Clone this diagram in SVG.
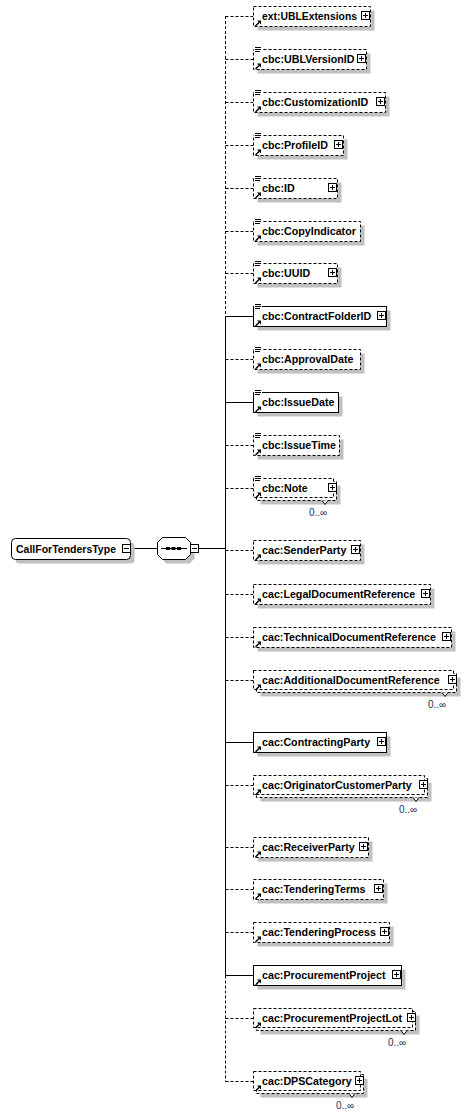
<svg xmlns="http://www.w3.org/2000/svg" xmlns:xlink="http://www.w3.org/1999/xlink" width="470" height="1115" viewBox="0 0 470 1115">
<style>
.bo{fill:#fff;stroke:#000;stroke-width:1}
.opt{stroke-dasharray:3 2}
.sh{fill:#c0c0c0}
.lbl{font-family:"Liberation Sans",Arial,sans-serif;font-weight:bold;font-size:10.7px;fill:#000}
.occ{font-family:"Liberation Sans",Arial,sans-serif;font-size:10px;fill:#1c2f5c;text-anchor:middle}
.ln{stroke:#000;stroke-width:1;fill:none}
.dl{stroke:#000;stroke-width:1;fill:none;stroke-dasharray:3 2}
.nt{fill:#fff;stroke:#000;stroke-width:1}
</style>
<defs>
<g id="plus"><rect x="0.5" y="-4.5" width="8" height="8" fill="#fff" stroke="#000"/><path d="M2 -0.5H7M4.5 -3V2" stroke="#000"/></g>
<g id="minus"><rect x="0.5" y="-4.5" width="8" height="8" fill="#fff" stroke="#000"/><path d="M2 -0.5H7" stroke="#000"/></g>
<g id="ref"><path d="M255.5 10 L259 6.5" stroke="#000" stroke-width="1.4"/><polygon points="257,4.5 261,4.5 261,8.5" fill="#000"/></g>
<g id="simp"><rect x="254" y="-12" width="8" height="6" fill="#fff"/><path d="M255 -11.5h6M255 -9.5h6M255 -7.5h5" stroke="#000"/></g>
</defs>

<g id="connectors">
<path class="ln" d="M131 548.5H157.5M199 548.5H225.5"/>
<path class="dl" d="M225.5 16V316.5"/>
<path class="ln" d="M225.5 316.5V975.5"/>
<path class="dl" d="M225.5 975.5V1081.5"/>
<path class="dl" d="M225.5 16.5H253M225.5 59.5H253M225.5 102.5H253M225.5 145.5H253M225.5 188.5H253M225.5 231.5H253M225.5 273.5H253M225.5 359.5H253M225.5 445.5H253M225.5 488.5H253M225.5 550.5H253M225.5 594.5H253M225.5 637.5H253M225.5 680.5H253M225.5 785.5H253M225.5 847.5H253M225.5 889.5H253M225.5 932.5H253M225.5 1018.5H253M225.5 1081.5H253"/>
<path class="ln" d="M225.5 316.5H253M225.5 402.5H253M225.5 742.5H253M225.5 975.5H253"/>
</g>

<g id="root">
<rect class="sh" x="15.5" y="542.5" width="119" height="21" rx="4"/>
<rect class="bo" x="11.5" y="538.5" width="119" height="21" rx="4"/>
<text class="lbl" x="16" y="552.5" style="font-size:10.5px">CallForTendersType</text>
<use href="#minus" x="122" y="549"/>
</g>

<g id="sequence">
<polygon class="sh" points="166.5,541.5 189.5,541.5 194.5,546.5 194.5,558.5 189.5,563.5 166.5,563.5 161.5,558.5 161.5,546.5"/>
<polygon class="bo" points="162.5,537.5 185.5,537.5 190.5,542.5 190.5,554.5 185.5,559.5 162.5,559.5 157.5,554.5 157.5,542.5"/>
<path class="ln" d="M161 548.5H187"/>
<rect x="166" y="547" width="4" height="3" fill="#000"/><rect x="171.5" y="547" width="4" height="3" fill="#000"/><rect x="177" y="547" width="4" height="3" fill="#000"/>
<use href="#minus" x="190" y="549"/>
</g>

<g id="n01" transform="translate(0,16)">
<rect class="sh" x="257.5" y="-5.5" width="117" height="20"/>
<rect class="bo opt" x="253.5" y="-9.5" width="117" height="20"/>
<use href="#ref"/>
<text class="lbl" x="262" y="4" textLength="95" lengthAdjust="spacingAndGlyphs">ext:UBLExtensions</text>
<use href="#plus" x="361"/>
</g>

<g id="n02" transform="translate(0,59)">
<rect class="sh" x="257.5" y="-5.5" width="113" height="20"/>
<rect class="bo opt" x="253.5" y="-9.5" width="113" height="20"/>
<use href="#simp"/><use href="#ref"/>
<text class="lbl" x="262" y="4">cbc:UBLVersionID</text>
<use href="#plus" x="357"/>
</g>

<g id="n03" transform="translate(0,102)">
<rect class="sh" x="257.5" y="-5.5" width="132" height="20"/>
<rect class="bo opt" x="253.5" y="-9.5" width="132" height="20"/>
<use href="#simp"/><use href="#ref"/>
<text class="lbl" x="262" y="4">cbc:CustomizationID</text>
<use href="#plus" x="376"/>
</g>

<g id="n04" transform="translate(0,145)">
<rect class="sh" x="257.5" y="-5.5" width="90" height="20"/>
<rect class="bo opt" x="253.5" y="-9.5" width="90" height="20"/>
<use href="#simp"/><use href="#ref"/>
<text class="lbl" x="262" y="4">cbc:ProfileID</text>
<use href="#plus" x="334"/>
</g>

<g id="n05" transform="translate(0,188)">
<rect class="sh" x="257.5" y="-5.5" width="84" height="20"/>
<rect class="bo opt" x="253.5" y="-9.5" width="84" height="20"/>
<use href="#simp"/><use href="#ref"/>
<text class="lbl" x="262" y="4">cbc:ID</text>
<use href="#plus" x="328"/>
</g>

<g id="n06" transform="translate(0,231)">
<rect class="sh" x="257.5" y="-5.5" width="107" height="20"/>
<rect class="bo opt" x="253.5" y="-9.5" width="107" height="20"/>
<use href="#simp"/><use href="#ref"/>
<text class="lbl" x="262" y="4">cbc:CopyIndicator</text>
</g>

<g id="n07" transform="translate(0,273)">
<rect class="sh" x="257.5" y="-5.5" width="84" height="20"/>
<rect class="bo opt" x="253.5" y="-9.5" width="84" height="20"/>
<use href="#simp"/><use href="#ref"/>
<text class="lbl" x="262" y="4">cbc:UUID</text>
<use href="#plus" x="328"/>
</g>

<g id="n08" transform="translate(0,316)">
<rect class="sh" x="257.5" y="-5.5" width="133" height="20"/>
<rect class="bo" x="253.5" y="-9.5" width="133" height="20"/>
<use href="#simp"/><use href="#ref"/>
<text class="lbl" x="262" y="4">cbc:ContractFolderID</text>
<use href="#plus" x="377"/>
</g>

<g id="n09" transform="translate(0,359)">
<rect class="sh" x="257.5" y="-5.5" width="107" height="20"/>
<rect class="bo opt" x="253.5" y="-9.5" width="107" height="20"/>
<use href="#simp"/><use href="#ref"/>
<text class="lbl" x="262" y="4">cbc:ApprovalDate</text>
</g>

<g id="n10" transform="translate(0,402)">
<rect class="sh" x="257.5" y="-5.5" width="85" height="20"/>
<rect class="bo" x="253.5" y="-9.5" width="85" height="20"/>
<use href="#simp"/><use href="#ref"/>
<text class="lbl" x="262" y="4">cbc:IssueDate</text>
</g>

<g id="n11" transform="translate(0,445)">
<rect class="sh" x="257.5" y="-5.5" width="86" height="20"/>
<rect class="bo opt" x="253.5" y="-9.5" width="86" height="20"/>
<use href="#simp"/><use href="#ref"/>
<text class="lbl" x="262" y="4">cbc:IssueTime</text>
</g>

<g id="n12" transform="translate(0,488)">
<rect class="sh" x="260.5" y="-2.5" width="80" height="19"/>
<rect class="bo opt" x="256.5" y="-6.5" width="80" height="19"/>
<rect class="bo opt" x="253.5" y="-9.5" width="80" height="19"/>
<path class="nt" d="M322 12.5L325 16.5L328 12.5"/>
<use href="#simp"/><use href="#ref"/>
<text class="lbl" x="262" y="4">cbc:Note</text>
<use href="#plus" x="328"/>
<text class="occ" x="318" y="28">0..∞</text>
</g>

<g id="n13" transform="translate(0,550)">
<rect class="sh" x="257.5" y="-5.5" width="107" height="20"/>
<rect class="bo opt" x="253.5" y="-9.5" width="107" height="20"/>
<use href="#ref"/>
<text class="lbl" x="262" y="4">cac:SenderParty</text>
<use href="#plus" x="351"/>
</g>

<g id="n14" transform="translate(0,594)">
<rect class="sh" x="257.5" y="-5.5" width="177" height="20"/>
<rect class="bo opt" x="253.5" y="-9.5" width="177" height="20"/>
<use href="#ref"/>
<text class="lbl" x="262" y="4">cac:LegalDocumentReference</text>
<use href="#plus" x="421"/>
</g>

<g id="n15" transform="translate(0,637)">
<rect class="sh" x="257.5" y="-5.5" width="198" height="20"/>
<rect class="bo opt" x="253.5" y="-9.5" width="198" height="20"/>
<use href="#ref"/>
<text class="lbl" x="262" y="4">cac:TechnicalDocumentReference</text>
<use href="#plus" x="442"/>
</g>

<g id="n16" transform="translate(0,680)">
<rect class="sh" x="260.5" y="-2.5" width="200" height="19"/>
<rect class="bo opt" x="256.5" y="-6.5" width="200" height="19"/>
<rect class="bo opt" x="253.5" y="-9.5" width="200" height="19"/>
<path class="nt" d="M442 12.5L445 16.5L448 12.5"/>
<use href="#ref"/>
<text class="lbl" x="262" y="4">cac:AdditionalDocumentReference</text>
<use href="#plus" x="448"/>
<text class="occ" x="437" y="28">0..∞</text>
</g>

<g id="n17" transform="translate(0,742)">
<rect class="sh" x="257.5" y="-5.5" width="133" height="20"/>
<rect class="bo" x="253.5" y="-9.5" width="133" height="20"/>
<use href="#ref"/>
<text class="lbl" x="262" y="4">cac:ContractingParty</text>
<use href="#plus" x="377"/>
</g>

<g id="n18" transform="translate(0,785)">
<rect class="sh" x="260.5" y="-2.5" width="171" height="19"/>
<rect class="bo opt" x="256.5" y="-6.5" width="171" height="19"/>
<rect class="bo opt" x="253.5" y="-9.5" width="171" height="19"/>
<path class="nt" d="M413 12.5L416 16.5L419 12.5"/>
<use href="#ref"/>
<text class="lbl" x="262" y="4">cac:OriginatorCustomerParty</text>
<use href="#plus" x="419"/>
<text class="occ" x="408" y="28">0..∞</text>
</g>

<g id="n19" transform="translate(0,847)">
<rect class="sh" x="257.5" y="-5.5" width="115" height="20"/>
<rect class="bo opt" x="253.5" y="-9.5" width="115" height="20"/>
<use href="#ref"/>
<text class="lbl" x="262" y="4">cac:ReceiverParty</text>
<use href="#plus" x="359"/>
</g>

<g id="n20" transform="translate(0,889)">
<rect class="sh" x="257.5" y="-5.5" width="130" height="20"/>
<rect class="bo opt" x="253.5" y="-9.5" width="130" height="20"/>
<use href="#ref"/>
<text class="lbl" x="262" y="4">cac:TenderingTerms</text>
<use href="#plus" x="374"/>
</g>

<g id="n21" transform="translate(0,932)">
<rect class="sh" x="257.5" y="-5.5" width="136" height="20"/>
<rect class="bo opt" x="253.5" y="-9.5" width="136" height="20"/>
<use href="#ref"/>
<text class="lbl" x="262" y="4">cac:TenderingProcess</text>
<use href="#plus" x="380"/>
</g>

<g id="n22" transform="translate(0,975)">
<rect class="sh" x="257.5" y="-5.5" width="148" height="20"/>
<rect class="bo" x="253.5" y="-9.5" width="148" height="20"/>
<use href="#ref"/>
<text class="lbl" x="262" y="4">cac:ProcurementProject</text>
<use href="#plus" x="392"/>
</g>

<g id="n23" transform="translate(0,1018)">
<rect class="sh" x="260.5" y="-2.5" width="159" height="19"/>
<rect class="bo opt" x="256.5" y="-6.5" width="159" height="19"/>
<rect class="bo opt" x="253.5" y="-9.5" width="159" height="19"/>
<path class="nt" d="M401 12.5L404 16.5L407 12.5"/>
<use href="#ref"/>
<text class="lbl" x="262" y="4">cac:ProcurementProjectLot</text>
<use href="#plus" x="407"/>
<text class="occ" x="397" y="28">0..∞</text>
</g>

<g id="n24" transform="translate(0,1081)">
<rect class="sh" x="260.5" y="-2.5" width="107" height="19"/>
<rect class="bo opt" x="256.5" y="-6.5" width="107" height="19"/>
<rect class="bo opt" x="253.5" y="-9.5" width="107" height="19"/>
<path class="nt" d="M349 12.5L352 16.5L355 12.5"/>
<use href="#ref"/>
<text class="lbl" x="262" y="4">cac:DPSCategory</text>
<use href="#plus" x="355"/>
<text class="occ" x="345" y="28">0..∞</text>
</g>
</svg>
